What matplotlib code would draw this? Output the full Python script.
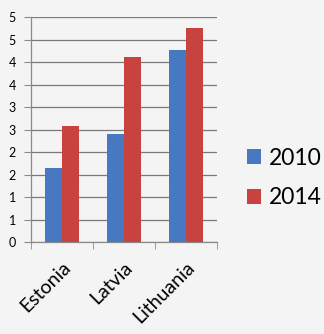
import numpy as np
import matplotlib
matplotlib.use("Agg")
import matplotlib.pyplot as plt
import matplotlib.ticker as ptk

countries = ["Estonia", "Latvia", "Lithuania"]
years = ["2010", "2014"]
values_2010 = [1.64, 2.40, 4.27]
values_2014 = [2.58, 4.11, 4.75]
colors = ["#4679c2", "#c8433f"]

plt.rcParams["font.family"] = ["Lato", "DejaVu Sans"]

fig = plt.figure(figsize=(3.24, 3.34), dpi=100, facecolor="#f4f4f4")
ax = fig.add_axes([0.0957, 0.2754, 0.574, 0.6737])
ax.set_facecolor("#f4f4f4")

x = np.arange(len(countries))
w = 0.28
ax.bar(x - w / 2, values_2010, w, color=colors[0], label=years[0], zorder=3)
ax.bar(x + w / 2, values_2014, w, color=colors[1], label=years[1], zorder=3)

ax.set_xlim(-0.5, len(countries) - 0.5)
ax.set_ylim(0, 5)
ax.yaxis.set_major_locator(ptk.MultipleLocator(0.5))
ax.yaxis.set_major_formatter(ptk.FuncFormatter(lambda v, p: "%d" % int(v + 0.5)))
ax.grid(axis="y", color="#7a7a7a", linewidth=0.9, zorder=0)

ax.set_xticks(x)
ax.set_xticklabels(countries, rotation=45, ha="right", rotation_mode="anchor", fontsize=14)
ax.set_xticks(np.arange(len(countries) + 1) - 0.5, minor=True)
ax.tick_params(axis="x", which="major", length=0, pad=12)
ax.tick_params(axis="x", which="minor", length=5, color="#8a8a8a", direction="out")
ax.tick_params(axis="y", length=5, color="#8a8a8a", labelsize=9, pad=6)

for s in ["top", "right"]:
    ax.spines[s].set_visible(False)
for s in ["left", "bottom"]:
    ax.spines[s].set_color("#8a8a8a")
    ax.spines[s].set_linewidth(0.9)

leg = fig.legend(loc="center left", bbox_to_anchor=(247 / 324, 1 - 178 / 334),
                 frameon=False, fontsize=16.5, handlelength=0.62, handleheight=0.62,
                 handletextpad=0.35, labelspacing=0.8, borderpad=0, borderaxespad=0)

fig.savefig("out.png", dpi=100, facecolor=fig.get_facecolor())
